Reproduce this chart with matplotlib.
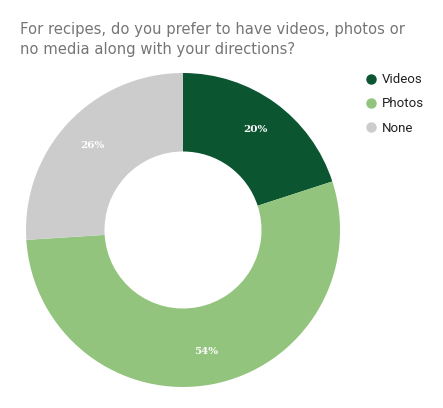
import matplotlib
matplotlib.use('Agg')

import matplotlib.pyplot as plt
from matplotlib.lines import Line2D

labels = ['Videos', 'Photos', 'None']
values = [20, 54, 26]
colors = ['#0b5531', '#93c47d', '#cccccc']
title = 'For recipes, do you prefer to have videos, photos or\nno media along with your directions?'

fig = plt.figure(figsize=(4.43, 4.08), dpi=100)
ax = fig.add_axes([26 / 443, 21 / 408, 314 / 443, 314 / 408])

# кольцевая диаграмма, по часовой стрелке от верха
wedges, texts, autotexts = ax.pie(
    values, colors=colors, startangle=90, counterclock=False,
    radius=1, autopct='%d%%', pctdistance=0.79,
    wedgeprops=dict(width=0.5, linewidth=0),
    textprops=dict(color='white', fontsize=7.5, family='DejaVu Serif', weight='bold'))
ax.set_xlim(-1, 1)
ax.set_ylim(-1, 1)
ax.set_aspect('equal')
ax.axis('off')

fig.text(20 / 443, 1 - 22 / 408, title, ha='left', va='top',
         fontsize=10.6, color='#757575', family='DejaVu Sans', linespacing=1.4)

handles = [Line2D([], [], marker='o', linestyle='', markersize=6.5,
                  markerfacecolor=c, markeredgecolor=c) for c in colors]
fig.legend(handles, labels, loc='upper left', bbox_to_anchor=(358 / 443, 1 - 68 / 408),
           frameon=False, prop=dict(family='Roboto', size=9.5), labelcolor='#222222',
           handletextpad=0.2, labelspacing=0.85, handlelength=1.2, borderaxespad=0)

fig.savefig('out.png', dpi=100)
